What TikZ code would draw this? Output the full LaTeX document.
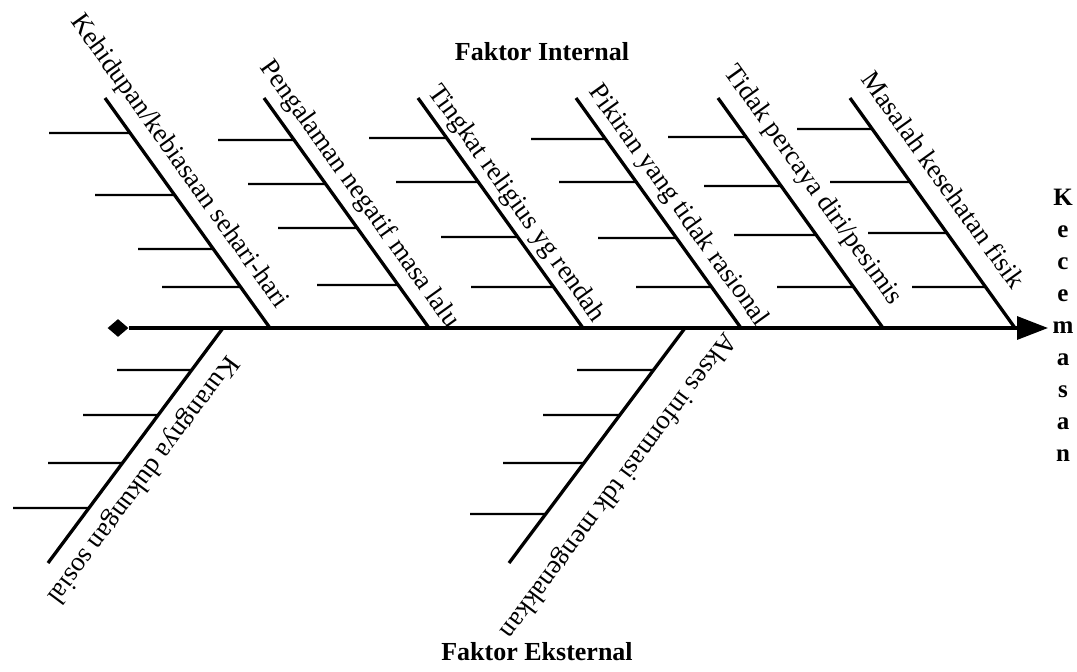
\documentclass[tikz,border=0pt]{standalone}
\usepackage{fontspec}
\setmainfont{Liberation Serif}
\usetikzlibrary{arrows.meta,calc,shapes.geometric}
\begin{document}
\begin{tikzpicture}[x=0.5pt,y=-0.5pt,
  bone/.style={line width=1.65pt},
  tickline/.style={line width=1.05pt},
  spine/.style={line width=1.65pt},
  lbl/.style={sloped, anchor=south west, inner xsep=0pt, text depth=0pt,
    font=\fontsize{13.5pt}{16pt}\selectfont},
  lbldown/.style={lbl, allow upside down},
  titletext/.style={font=\bfseries\fontsize{13pt}{15pt}\selectfont, anchor=base},
  effect/.style={font=\bfseries\fontsize{12.5pt}{15pt}\selectfont, anchor=base}]

\fill[white] (0,0) rectangle (1077,671);
\useasboundingbox (0,0) rectangle (1077,671);

% spine
\node[diamond, fill=black, inner sep=0pt, minimum width=10.5pt, minimum height=9pt] (tail) at (118,328) {};
\coordinate (head) at (1048,328);
\draw[spine, -{Triangle[length=15.5pt,width=11.5pt]}] (tail.east) -- (head);

% upper bones
\foreach \n/\x in {1/105,2/264,3/418,4/576,5/718,6/850}{
  \coordinate (b\n-t) at (\x,98);
  \coordinate (b\n-b) at (\x+165,328);
  \draw[bone] (b\n-t) -- (b\n-b);
}
% lower bones
\coordinate (l1-t) at (223,328); \coordinate (l1-b) at (48,563);
\coordinate (l2-t) at (685,328); \coordinate (l2-b) at (509,563);
\draw[bone] (l1-t) -- (l1-b);
\draw[bone] (l2-t) -- (l2-b);

% ticks on upper bones
\foreach \b/\x/\y in {b1/49/133, b1/95/195, b1/138/249, b1/162/287,
                      b2/218/140, b2/248/184, b2/278/228, b2/317/285,
                      b3/369/138, b3/396/182, b3/441/237, b3/471/287,
                      b4/531/139, b4/559/182, b4/598/238, b4/636/287,
                      b5/668/137, b5/704/186, b5/734/235, b5/777/287,
                      b6/797/129, b6/830/182, b6/868/233, b6/912/287}{
  \draw[tickline] (\x,\y) -- ($(\b-t)!{(\y-98)/230}!(\b-b)$);
}
% ticks on lower bones
\foreach \b/\x/\y in {l1/117/370, l1/83/415, l1/48/463, l1/13/508,
                      l2/577/370, l2/543/415, l2/503/463, l2/470/514}{
  \draw[tickline] (\x,\y) -- ($(\b-t)!{(\y-328)/235}!(\b-b)$);
}

% labels
\path (b1-t) -- (b1-b) node[lbl, pos=-0.293, inner ysep=8pt] (t1) {Kehidupan/kebiasaan sehari-hari};
\path (b2-t) -- (b2-b) node[lbl, pos=-0.099, inner ysep=7pt] (t2) {Pengalaman negatif masa lalu};
\path (b3-t) -- (b3-b) node[lbl, pos=0.002, inner ysep=5.5pt] (t3) {Tingkat religius yg rendah};
\path (b4-t) -- (b4-b) node[lbl, pos=0.006, inner ysep=6.5pt] (t4) {Pikiran yang tidak rasional};
\path (b5-t) -- (b5-b) node[lbl, pos=-0.062, inner ysep=9.5pt] (t5) {Tidak percaya diri/pesimis};
\path (b6-t) -- (b6-b) node[lbl, pos=-0.032, inner ysep=9.5pt] (t6) {Masalah kesehatan fisik};
\path (l1-t) -- (l1-b) node[lbldown, pos=0.064, inner ysep=9.5pt] (t7) {Kurangnya dukungan sosial};
\path (l2-t) -- (l2-b) node[lbldown, pos=-0.072, inner ysep=16.5pt] (t8) {Akses informasi tdk mengenakkan};

% titles
\node[titletext] (fi) at (542,60) {Faktor Internal};
\node[titletext] (fe) at (537,660) {Faktor Eksternal};

% effect
\foreach \c [count=\i from 0] in {K,e,c,e,m,a,s,a,n}{
  \node[effect] (k\i) at (1063,205+32*\i) {\c};
}
\end{tikzpicture}
\end{document}
